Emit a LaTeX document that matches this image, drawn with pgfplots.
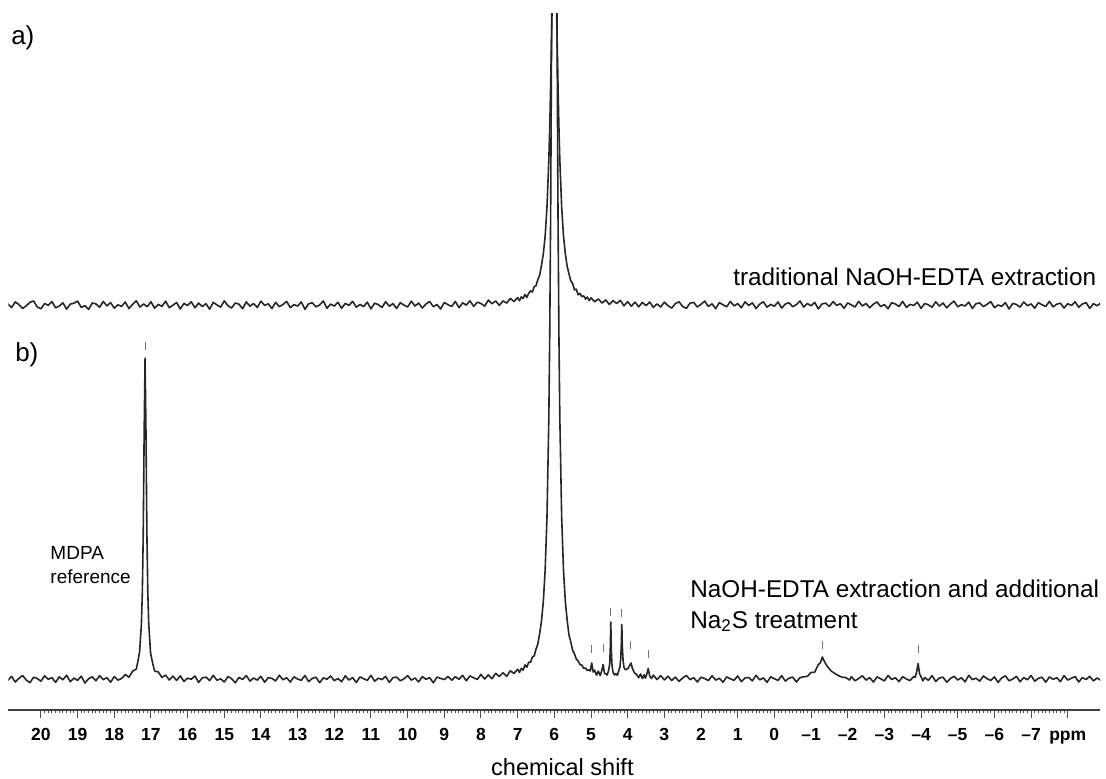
\documentclass[border=0pt]{standalone}
\usepackage{fontspec}
\setmainfont{Liberation Sans}
\usepackage{pgfplots}
\usepackage{pgfplotstable}
\pgfplotsset{compat=1.18}

% Spectrum a): traditional NaOH-EDTA extraction (intensity relative to its own baseline)
\pgfplotstableread{
x y
20.9 1.2
20.8 -2.6
20.7 3.1
20.6 0.4
20.5 -3.5
20.4 -0.8
20.3 2.7
20.2 4.0
20.1 -1.9
20.0 -3.8
19.9 1.5
19.8 -0.3
19.7 3.4
19.6 -2.9
19.5 -1.1
19.4 2.2
19.3 -4.1
19.2 0.9
19.1 1.8
19.0 3.9
18.9 -2.4
18.8 -0.6
18.7 -4.4
18.6 2.0
18.5 1.1
18.4 -2.2
18.3 3.5
18.2 -0.9
18.1 2.4
18.0 -3.1
17.9 0.2
17.8 -1.4
17.7 3.0
17.6 -3.6
17.5 0.7
17.4 4.2
17.3 -2.0
17.2 1.0
17.1 -1.7
17.0 3.3
16.9 -3.2
16.8 0.6
16.7 -1.3
16.6 3.8
16.5 -2.7
16.4 -0.2
16.3 2.5
16.2 -4.0
16.1 1.6
16.0 -0.5
15.9 3.2
15.8 -2.8
15.7 1.9
15.6 -1.5
15.5 1.3
15.4 -4.2
15.3 2.6
15.2 0.1
15.1 -2.1
15.0 4.1
14.9 -0.7
14.8 -3.0
14.7 2.0
14.6 0.8
14.5 -3.7
14.4 3.1
14.3 -1.2
14.2 1.5
14.1 -2.5
14.0 3.9
13.9 -0.4
13.8 1.2
13.7 -3.6
13.6 2.6
13.5 -1.6
13.4 0.5
13.3 3.6
13.2 -2.6
13.1 0.3
13.0 -1.0
12.9 3.1
12.8 -4.3
12.7 1.3
12.6 2.2
12.5 -1.8
12.4 0.0
12.3 4.0
12.2 -3.2
12.1 0.9
12.0 -1.1
11.9 2.7
11.8 -3.3
11.7 1.6
11.6 -0.4
11.5 3.7
11.4 -2.2
11.3 0.6
11.2 -1.6
11.1 2.8
11.0 -3.9
10.9 1.8
10.8 0.4
10.7 -2.5
10.6 3.3
10.5 -1.2
10.4 1.4
10.3 -3.5
10.2 2.3
10.1 -0.1
10.0 -2.0
9.9 3.8
9.8 -1.0
9.7 1.9
9.6 -3.0
9.5 1.0
9.4 3.5
9.3 -1.7
9.2 0.5
9.1 -4.0
9.0 2.5
8.9 0.3
8.8 -1.5
8.7 3.6
8.6 -2.7
8.5 2.2
8.4 -0.1
8.3 4.2
8.2 -1.4
8.1 2.8
8.0 1.5
7.9 -1.1
7.8 4.9
7.7 1.2
7.6 4.1
7.5 -0.4
7.4 4.1
7.3 1.9
7.2 6.5
7.1 3.5
7.0 7.4
6.95 4.3
6.9 8.2
6.85 6.5
6.8 10.6
6.75 7.4
6.7 11.7
6.65 14.2
6.6 12.9
6.55 18.3
6.5 19.2
6.45 25.5
6.4 29.7
6.35 39.8
6.3 51
6.25 69
6.2 98
6.15 145
6.125 178
6.1 220
6.075 269
6.05 319
6.025 360
6.0 376
5.975 360
5.95 319
5.925 269
5.9 220
5.875 178
5.85 145
5.8 98
5.75 69
5.7 51.4
5.65 38.6
5.6 31.2
5.55 23.9
5.5 21.6
5.45 15.1
5.4 15.8
5.35 10.2
5.3 11.6
5.25 8.4
5.2 9.3
5.15 5.9
5.1 8.0
5.05 4.4
5.0 7.2
4.9 3.3
4.8 6.1
4.7 1.9
4.6 5.0
4.5 0.6
4.4 4.4
4.3 1.5
4.2 4.6
4.1 -0.8
4.0 3.4
3.9 -1.2
3.8 2.9
3.7 -1.9
3.6 2.6
3.5 -0.6
3.4 3.0
3.3 -2.4
3.2 1.1
3.1 -1.9
3.0 2.8
2.9 -0.6
2.8 -3.1
2.7 1.4
2.6 3.2
2.5 -1.5
2.4 -3.4
2.3 1.8
2.2 2.6
2.1 -2.0
2.0 0.7
1.9 3.9
1.8 -1.4
1.7 1.2
1.6 -3.7
1.5 2.4
1.4 0.2
1.3 -1.8
1.2 3.6
1.1 -0.9
1.0 1.4
0.9 -2.8
0.8 3.1
0.7 -0.5
0.6 2.1
0.5 -3.5
0.4 0.8
0.3 3.2
0.2 -2.2
0.1 0.6
0.0 -1.2
-0.1 3.0
-0.2 -3.1
-0.3 1.0
-0.4 2.3
-0.5 -1.7
-0.6 0.4
-0.7 4.0
-0.8 -2.1
-0.9 1.5
-1.0 -0.8
-1.1 2.6
-1.2 -3.9
-1.3 1.1
-1.4 1.8
-1.5 -1.4
-1.6 3.4
-1.7 -0.4
-1.8 1.3
-1.9 -3.3
-2.0 2.1
-2.1 0.1
-2.2 -2.0
-2.3 3.7
-2.4 -1.0
-2.5 1.6
-2.6 -2.8
-2.7 0.8
-2.8 3.1
-2.9 -1.6
-3.0 0.5
-3.1 -3.7
-3.2 2.3
-3.3 1.0
-3.4 -1.5
-3.5 3.6
-3.6 -2.4
-3.7 0.6
-3.8 -0.5
-3.9 2.8
-4.0 -3.4
-4.1 1.5
-4.2 0.2
-4.3 -2.3
-4.4 3.2
-4.5 -1.1
-4.6 2.0
-4.7 -2.9
-4.8 1.0
-4.9 3.9
-5.0 -1.8
-5.1 0.3
-5.2 -1.0
-5.3 2.9
-5.4 -3.5
-5.5 1.3
-5.6 2.1
-5.7 -1.6
-5.8 0.7
-5.9 3.4
-6.0 -2.6
-6.1 0.0
-6.2 -1.3
-6.3 2.4
-6.4 -4.0
-6.5 1.6
-6.6 0.5
-6.7 -2.1
-6.8 3.0
-6.9 -0.7
-7.0 1.1
-7.1 -3.2
-7.2 2.3
-7.3 0.2
-7.4 -1.5
-7.5 3.7
-7.6 -1.9
-7.7 0.8
-7.8 1.8
-7.9 -3.0
-8.0 1.3
-8.1 -0.5
-8.2 3.2
-8.3 -2.2
-8.4 1.0
-8.5 2.4
-8.6 -3.4
-8.7 1.4
-8.8 -0.8
-8.9 1.9
}\specA

% Spectrum b): NaOH-EDTA extraction and additional Na2S treatment
\pgfplotstableread{
x y
20.9 -1.3
20.8 2.6
20.7 -3.0
20.6 0.6
20.5 3.5
20.4 -1.0
20.3 -3.7
20.2 1.8
20.1 0.5
20.0 -2.2
19.9 3.2
19.8 -0.3
19.7 1.4
19.6 -3.4
19.5 2.1
19.4 -0.8
19.3 3.8
19.2 -2.7
19.1 1.0
19.0 -1.4
18.9 2.9
18.8 -4.0
18.7 0.3
18.6 2.2
18.5 -1.8
18.4 3.4
18.3 -0.6
18.2 1.3
18.1 -3.2
18.0 2.4
17.9 -1.1
17.8 0.5
17.7 4.5
17.6 1.8
17.5 7.8
17.4 9.9
17.36 17.0
17.31 26.8
17.26 55
17.235 86
17.21 145
17.185 246
17.16 321
17.135 246
17.11 145
17.085 86
17.06 55
17.01 25.9
16.96 17.0
16.9 7.9
16.8 7.1
16.7 1.6
16.6 3.9
16.5 -1.0
16.4 2.9
16.3 -1.4
16.2 3.2
16.1 -2.4
16.0 0.8
15.9 -0.2
15.8 3.0
15.7 -3.5
15.6 1.1
15.5 1.9
15.4 -1.6
15.3 3.7
15.2 -1.3
15.1 0.2
15.0 -2.9
14.9 2.6
14.8 0.3
14.7 -3.8
14.6 1.6
14.5 -0.5
14.4 3.4
14.3 -2.1
14.2 1.0
14.1 -1.1
14.0 2.7
13.9 -3.2
13.8 1.4
13.7 0.5
13.6 -1.9
13.5 3.8
13.4 -0.8
13.3 1.3
13.2 -3.0
13.1 2.2
13.0 0.0
12.9 -1.3
12.8 3.5
12.7 -2.6
12.6 0.6
12.5 1.8
12.4 -3.7
12.3 1.1
12.2 -0.2
12.1 3.0
12.0 -1.6
11.9 0.5
11.8 -2.7
11.7 3.2
11.6 -1.0
11.5 1.4
11.4 -3.5
11.3 2.1
11.2 0.3
11.1 -1.4
11.0 3.7
10.9 -2.2
10.8 0.8
10.7 -0.5
10.6 2.6
10.5 -3.4
10.4 1.3
10.3 1.9
10.2 -1.8
10.1 0.2
10.0 3.4
9.9 -1.1
9.8 1.0
9.7 -2.9
9.6 2.4
9.5 -0.3
9.4 1.4
9.3 -3.8
9.2 1.9
9.1 0.6
9.0 -0.5
8.9 2.5
8.8 -1.2
8.7 2.3
8.6 -0.3
8.5 3.7
8.4 -1.8
8.3 3.1
8.2 1.2
8.1 -0.4
8.0 4.6
7.9 0.0
7.8 4.1
7.7 0.3
7.6 5.7
7.5 2.5
7.4 6.2
7.3 2.6
7.2 8.2
7.1 5.5
7.0 9.8
6.95 6.5
6.9 10.7
6.85 8.8
6.8 14.2
6.75 11.7
6.7 16.8
6.65 16.5
6.6 21.9
6.55 23.0
6.5 29.8
6.45 35.0
6.4 45.5
6.35 58
6.3 77.5
6.25 109
6.2 162
6.15 261
6.125 345
6.1 467
6.075 643
6.05 880
6.025 1131
6.0 1250
5.975 1131
5.95 880
5.925 643
5.9 467
5.875 345
5.85 261
5.8 162
5.75 109
5.7 77.5
5.65 58.8
5.6 43.9
5.55 36.9
5.5 28.7
5.45 25.0
5.4 19.9
5.35 18.1
5.3 14.4
5.25 13.9
5.2 10.8
5.15 11.0
5.1 8.6
5.05 9.2
5.02 8.0
4.98 16.0
4.94 7.0
4.9 8.8
4.85 3.9
4.8 7.9
4.75 3.4
4.71 7.8
4.67 14.5
4.63 5.6
4.6 5.2
4.56 3.9
4.52 8.6
4.49 15.0
4.475 28.5
4.46 57.0
4.445 28.0
4.43 15.0
4.40 6.8
4.36 4.1
4.32 5.4
4.28 3.7
4.25 7.5
4.21 12.0
4.19 20.5
4.175 32.5
4.16 54.5
4.145 32.0
4.125 18.5
4.10 11.5
4.06 9.2
4.02 10.0
3.98 11.0
3.94 14.0
3.91 16.0
3.87 10.5
3.82 6.5
3.75 4.2
3.7 1.3
3.65 5.0
3.6 0.4
3.55 4.2
3.52 0.8
3.48 4.6
3.44 10.5
3.40 3.2
3.35 0.4
3.3 3.9
3.2 -0.6
3.1 3.4
3.0 -0.9
2.9 2.8
2.8 -1.5
2.7 1.9
2.6 -2.4
2.5 1.0
2.4 3.5
2.3 -0.6
2.2 1.3
2.1 -3.0
2.0 1.8
1.9 0.5
1.8 -1.6
1.7 3.2
1.6 -1.1
1.5 0.8
1.4 -3.2
1.3 2.1
1.2 0.2
1.1 -1.3
1.0 3.0
0.9 -2.6
0.8 1.0
0.7 1.6
0.6 -1.9
0.5 3.7
0.4 -0.8
0.3 1.1
0.2 -3.4
0.1 2.2
0.0 0.3
-0.1 -1.4
-0.2 3.4
-0.3 -2.1
-0.4 0.8
-0.5 1.9
-0.6 -2.9
-0.7 1.4
-0.8 2.2
-0.9 2.7
-1.0 6.5
-1.1 6.8
-1.2 14.6
-1.25 15.8
-1.31 22.0
-1.37 17.0
-1.45 12.4
-1.55 8.0
-1.65 5.5
-1.75 3.3
-1.85 1.8
-1.95 1.4
-2.05 -1.0
-2.1 2.4
-2.2 -1.8
-2.3 0.6
-2.4 3.2
-2.5 -1.1
-2.6 1.4
-2.7 -3.0
-2.8 2.1
-2.9 0.2
-3.0 -1.9
-3.1 3.5
-3.2 -0.5
-3.3 1.3
-3.4 -2.6
-3.5 2.4
-3.6 0.0
-3.7 -1.6
-3.8 2.6
-3.84 1.8
-3.88 6.9
-3.92 15.5
-3.96 5.2
-4.0 2.4
-4.05 -1.9
-4.1 1.4
-4.2 -1.3
-4.3 3.4
-4.4 -2.4
-4.5 1.0
-4.6 1.8
-4.7 -3.2
-4.8 0.5
-4.9 2.7
-5.0 -1.0
-5.1 1.3
-5.2 -2.9
-5.3 3.7
-5.4 -0.6
-5.5 0.8
-5.6 -2.1
-5.7 3.0
-5.8 0.3
-5.9 -1.4
-6.0 2.2
-6.1 -3.5
-6.2 1.1
-6.3 3.2
-6.4 -1.8
-6.5 0.0
-6.6 2.6
-6.7 -2.7
-6.8 1.4
-6.9 -0.8
-7.0 3.5
-7.1 -2.2
-7.2 0.6
-7.3 1.8
-7.4 -3.2
-7.5 2.1
-7.6 -0.3
-7.7 1.3
-7.8 -2.6
-7.9 3.4
-8.0 -1.1
-8.1 0.8
-8.2 2.4
-8.3 -3.0
-8.4 1.4
-8.5 -0.5
-8.6 2.7
-8.7 -1.9
-8.8 1.0
-8.9 -1.3
}\specB

\begin{document}
\begin{tikzpicture}
\useasboundingbox (-4.15pt,-34pt) rectangle (548.85pt,355pt);
\begin{axis}[
  at={(0,0)}, anchor=south west,
  width=545.85pt, height=348pt, scale only axis,
  x dir=reverse,
  xmin=-8.88, xmax=20.89,
  ymin=-31, ymax=665,
  axis x line=bottom, axis y line=none,
  x axis line style={-, black!75, line width=0.7pt},
  xtick={20,19,...,-8},
  xticklabels={20,19,18,17,16,15,14,13,12,11,10,9,8,7,6,5,4,3,2,1,0,
               –1,–2,–3,–4,–5,–6,–7,ppm},
  minor x tick num=9,
  tick align=outside,
  major tick length=4pt, minor tick length=1.6pt,
  every tick/.style={black!70, line width=0.5pt},
  xticklabel style={font=\bfseries\fontsize{8.75}{10}\selectfont,
    inner sep=0pt, text height=6.3pt, text depth=1.8pt, anchor=north, yshift=-4.8pt},
  clip mode=individual,
]
  \addplot[black!85, line width=0.8pt, line join=round]
    table[x=x, y expr=\thisrow{y}+374] {\specA};
  \addplot[black!85, line width=0.8pt, line join=round]
    table[x=x, y=y] {\specB};
  % peak assignment markers
  \addplot[only marks, mark=|, mark size=2pt, black!55,
           mark options={line width=0.5pt}] coordinates {
    (17.16,333) (4.98,30) (4.67,31.5) (4.46,67.5) (4.16,66.5)
    (3.91,34) (3.44,25.5) (-1.31,34.5) (-3.92,30.5)};

  \node[anchor=base west, inner sep=0pt, font=\fontsize{13}{15}\selectfont]
    at (axis cs:20.82,634) {a)};
  \node[anchor=base west, inner sep=0pt, font=\fontsize{13}{15}\selectfont]
    at (axis cs:20.71,318) {b)};
  \node[anchor=base west, inner sep=0pt, font=\fontsize{12.15}{14}\selectfont]
    at (axis cs:1.13,394) {traditional NaOH-EDTA extraction};
  \node[anchor=base west, inner sep=0pt, font=\fontsize{12.15}{14}\selectfont]
    at (axis cs:2.30,82) {NaOH-EDTA extraction and additional};
  \node[anchor=base west, inner sep=0pt, font=\fontsize{12.15}{14}\selectfont]
    at (axis cs:2.30,51) {Na\textsubscript{2}S treatment};
  \node[anchor=base west, inner sep=0pt, font=\fontsize{9.5}{11}\selectfont]
    at (axis cs:19.75,120) {MDPA};
  \node[anchor=base west, inner sep=0pt, font=\fontsize{9.5}{11}\selectfont]
    at (axis cs:19.75,96) {reference};
  \node[anchor=base, inner sep=0pt, font=\fontsize{11.75}{14}\selectfont, yshift=-32.8pt]
    at (axis cs:5.78,-31) {chemical shift};
\end{axis}
\end{tikzpicture}
\end{document}
